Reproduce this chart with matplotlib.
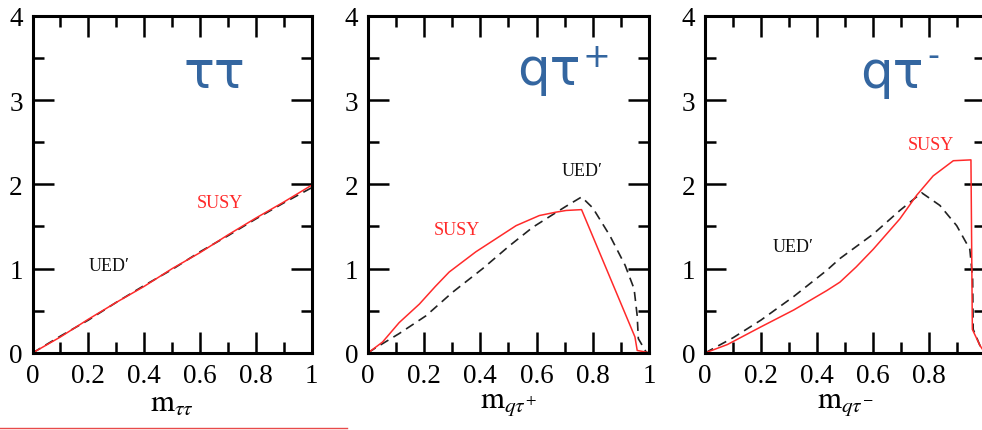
import matplotlib
matplotlib.use("Agg")
import matplotlib.pyplot as plt
from matplotlib.lines import Line2D
from matplotlib.ticker import MultipleLocator, FuncFormatter

plt.rcParams["mathtext.fontset"] = "stix"
SERIF = ["Liberation Serif", "DejaVu Serif"]
SANS = ["DejaVu Sans"]

# panel 1: m_tautau
x_tt = [0, 0.1, 0.2, 0.3, 0.4, 0.5, 0.6, 0.7, 0.8, 0.9, 1.0]
susy_tt = [0, 0.19, 0.4, 0.6, 0.79, 1.0, 1.19, 1.4, 1.6, 1.79, 1.99]
ued_tt = [0, 0.2, 0.39, 0.6, 0.8, 0.99, 1.2, 1.39, 1.59, 1.78, 1.96]

# panel 2: m_qtau+
x_susy_p = [0, 0.052, 0.111, 0.183, 0.24, 0.289, 0.384, 0.444, 0.527, 0.61, 0.669, 0.705, 0.76, 0.95, 0.958, 0.99, 1.0]
susy_p = [0, 0.13, 0.36, 0.58, 0.79, 0.96, 1.20, 1.33, 1.51, 1.63, 1.67, 1.69, 1.70, 0.19, 0.03, 0.01, 0]
x_ued_p = [0, 0.022, 0.111, 0.206, 0.301, 0.408, 0.503, 0.586, 0.657, 0.705, 0.76, 0.80, 0.861, 0.915, 0.947, 0.958, 0.962, 0.99, 1.0]
ued_p = [0, 0.05, 0.23, 0.44, 0.72, 1.0, 1.27, 1.49, 1.64, 1.74, 1.85, 1.72, 1.39, 1.04, 0.76, 0.44, 0.17, 0.01, 0]

# panel 3: m_qtau-
x_susy_m = [0, 0.08, 0.2, 0.317, 0.435, 0.482, 0.54, 0.601, 0.696, 0.756, 0.815, 0.887, 0.95, 0.955, 0.982, 1.0]
susy_m = [0, 0.1, 0.31, 0.51, 0.74, 0.84, 1.02, 1.23, 1.59, 1.87, 2.10, 2.28, 2.29, 0.28, 0.09, 0]
x_ued_m = [0, 0.1, 0.2, 0.317, 0.435, 0.482, 0.601, 0.696, 0.774, 0.839, 0.899, 0.946, 0.956, 0.958, 0.982, 1.0]
ued_m = [0, 0.18, 0.39, 0.67, 0.98, 1.12, 1.41, 1.69, 1.90, 1.75, 1.51, 1.23, 0.88, 0.28, 0.09, 0]

xlabels = [r"$\mathrm{m}_{\tau\tau}$", r"$\mathrm{m}_{q\tau^{+}}$", r"$\mathrm{m}_{q\tau^{-}}$"]
titles = ["ττ", "qτ", "qτ"]
title_sup = [None, "+", "-"]

RED = "#ff2a2a"
BLUE = "#3466a0"

fig = plt.figure(figsize=(9.82, 4.31), dpi=100)
bottom, height = 0.1787, 0.7826
lefts = [0.0331, 0.3747, 0.7179]
widths = [0.2843, 0.2862, 0.2851]

panels = [
    (x_tt, susy_tt, x_tt, ued_tt, (0.59, 1.79), (0.2, 1.04), (0.54, 3.16), None),
    (x_susy_p, susy_p, x_ued_p, ued_p, (0.235, 1.47), (0.69, 2.16), (0.53, 3.19), (0.765, 3.40)),
    (x_susy_m, susy_m, x_ued_m, ued_m, (0.725, 2.47), (0.243, 1.26), (0.554, 3.16), (0.795, 3.42)),
]


def tick_fmt(last_shown):
    def f(v, p):
        if not last_shown and abs(v - 1) < 1e-9:
            return ""
        return f"{v:g}"
    return FuncFormatter(f)


for i, (xs, ys, xu, yu, pos_s, pos_u, pos_t, pos_sup) in enumerate(panels):
    ax = fig.add_axes([lefts[i], bottom, widths[i], height])
    ax.plot(xu, yu, color="#222222", lw=1.2, dashes=(5.5, 3.5))
    ax.plot(xs, ys, color=RED, lw=1.1)
    ax.set_xlim(0, 1)
    ax.set_ylim(0, 4)
    ax.xaxis.set_major_locator(MultipleLocator(0.2))
    ax.xaxis.set_minor_locator(MultipleLocator(0.1))
    ax.yaxis.set_major_locator(MultipleLocator(1))
    ax.yaxis.set_minor_locator(MultipleLocator(0.5))
    ax.xaxis.set_major_formatter(tick_fmt(i < 2))
    ax.tick_params(which="both", direction="in", top=True, right=True, width=1.8)
    ax.tick_params(which="major", length=15, pad=7)
    ax.tick_params(which="minor", length=8)
    for lab in ax.get_xticklabels() + ax.get_yticklabels():
        lab.set_family(SERIF)
        lab.set_fontsize(19.5)
    for sp in ax.spines.values():
        sp.set_linewidth(2.2)
    ax.set_xlabel(xlabels[i], fontsize=22, labelpad=0)
    ax.text(pos_s[0], pos_s[1], "SUSY", color=RED, family=SERIF, fontsize=13,
            ha="left", va="center")
    ax.text(pos_u[0], pos_u[1], "UED\u2032", color="#111111", family=SERIF, fontsize=13,
            ha="left", va="center")
    ax.text(pos_t[0], pos_t[1], titles[i], color=BLUE, family=SANS, fontsize=37,
            ha="left", va="baseline")
    if pos_sup is not None:
        ax.text(pos_sup[0], pos_sup[1], title_sup[i], color=BLUE, family=SANS,
                fontsize=24, ha="left", va="baseline")

fig.add_artist(Line2D([0, 347 / 982], [2 / 431, 2 / 431], color="#e84a4a", lw=1.0))

fig.savefig("out.png", dpi=100)
